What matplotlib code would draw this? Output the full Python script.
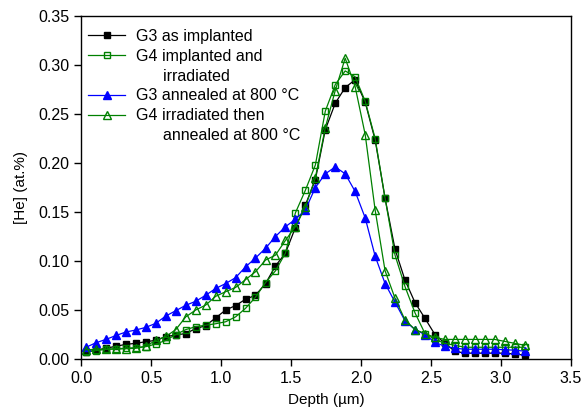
import matplotlib
matplotlib.use("Agg")
import matplotlib.pyplot as plt
from matplotlib.lines import Line2D
from matplotlib.ticker import FormatStrFormatter

plt.rcParams['font.family'] = ['Liberation Sans', 'DejaVu Sans']

depth = [0.036, 0.107, 0.178, 0.250, 0.321, 0.392, 0.463, 0.534, 0.606, 0.677,
         0.748, 0.819, 0.890, 0.962, 1.033, 1.104, 1.175, 1.246, 1.318, 1.389,
         1.460, 1.531, 1.602, 1.674, 1.745, 1.816, 1.887, 1.958, 2.030, 2.101,
         2.172, 2.243, 2.314, 2.386, 2.457, 2.528, 2.599, 2.670, 2.742, 2.813,
         2.884, 2.955, 3.026, 3.098, 3.169]

g3_implanted = [0.007, 0.009, 0.011, 0.013, 0.015, 0.016, 0.0177, 0.019, 0.0228, 0.0245,
                0.026, 0.031, 0.034, 0.042, 0.050, 0.0545, 0.061, 0.065, 0.077, 0.095,
                0.108, 0.134, 0.157, 0.183, 0.234, 0.261, 0.277, 0.285, 0.262, 0.2235,
                0.164, 0.112, 0.0806, 0.0575, 0.0415, 0.0250, 0.016, 0.008, 0.006, 0.006,
                0.006, 0.006, 0.006, 0.005, 0.004]

g4_implanted_irr = [0.0075, 0.0085, 0.0099, 0.0105, 0.011, 0.0116, 0.0126, 0.0153, 0.019, 0.025,
                    0.030, 0.033, 0.0345, 0.036, 0.038, 0.043, 0.0517, 0.063, 0.078, 0.090,
                    0.108, 0.149, 0.172, 0.198, 0.253, 0.280, 0.294, 0.288, 0.263, 0.225,
                    0.164, 0.106, 0.074, 0.047, 0.026, 0.020, 0.016, 0.014, 0.012, 0.012,
                    0.012, 0.012, 0.012, 0.012, 0.012]

g3_annealed = [0.012, 0.0166, 0.020, 0.024, 0.0276, 0.0296, 0.0323, 0.0364, 0.0439, 0.0493,
               0.0548, 0.0589, 0.065, 0.072, 0.077, 0.083, 0.094, 0.103, 0.113, 0.125,
               0.135, 0.1425, 0.152, 0.175, 0.189, 0.196, 0.189, 0.171, 0.144, 0.105,
               0.077, 0.058, 0.039, 0.030, 0.025, 0.017, 0.013, 0.011, 0.010, 0.010,
               0.010, 0.010, 0.0095, 0.009, 0.008]

g4_irr_annealed = [0.0095, 0.0098, 0.010, 0.0102, 0.0105, 0.011, 0.013, 0.019, 0.023, 0.030,
                   0.043, 0.050, 0.055, 0.064, 0.0687, 0.073, 0.081, 0.089, 0.101, 0.106,
                   0.121, 0.135, 0.155, 0.185, 0.236, 0.274, 0.307, 0.278, 0.229, 0.152,
                   0.090, 0.062, 0.040, 0.030, 0.026, 0.022, 0.020, 0.020, 0.020, 0.020,
                   0.020, 0.020, 0.018, 0.016, 0.014]

label_lines = [["G3 as implanted"],
               ["G4 implanted and", "      irradiated"],
               ["G3 annealed at 800 \u00b0C"],
               ["G4 irradiated then", "      annealed at 800 \u00b0C"]]

fig = plt.figure(figsize=(5.82, 4.12), dpi=100)
ax = fig.add_axes([0.1392, 0.1286, 0.8419, 0.8325])

lw = 0.9
h1, = ax.plot(depth, g3_implanted, color='black', marker='s', markersize=5, lw=lw,
              markerfacecolor='black', markeredgecolor='black')
h2, = ax.plot(depth, g4_implanted_irr, color='#008000', marker='s', markersize=5, lw=lw,
              markerfacecolor='none', markeredgecolor='#008000', markeredgewidth=1.0)
h3, = ax.plot(depth, g3_annealed, color='#0000ff', marker='^', markersize=6, lw=lw,
              markerfacecolor='#0000ff', markeredgecolor='#0000ff')
h4, = ax.plot(depth, g4_irr_annealed, color='#008000', marker='^', markersize=6, lw=lw,
              markerfacecolor='none', markeredgecolor='#008000', markeredgewidth=1.0)

handles, texts = [], []
for h, lines in zip([h1, h2, h3, h4], label_lines):
    handles.append(h)
    texts.append(lines[0])
    for extra in lines[1:]:
        handles.append(Line2D([], [], linestyle='none', marker=None))
        texts.append(extra)

ax.set_xlim(0, 3.5)
ax.set_ylim(0, 0.35)
ax.set_xticks([0.0, 0.5, 1.0, 1.5, 2.0, 2.5, 3.0, 3.5])
ax.set_yticks([0.0, 0.05, 0.10, 0.15, 0.20, 0.25, 0.30, 0.35])
ax.xaxis.set_major_formatter(FormatStrFormatter('%.1f'))
ax.yaxis.set_major_formatter(FormatStrFormatter('%.2f'))
ax.tick_params(direction='out', length=5, width=1, labelsize=11.5, top=False, right=False)
for s in ax.spines.values():
    s.set_linewidth(1.0)

ax.set_xlabel("Depth (\u00b5m)", fontsize=11, labelpad=5)
ax.set_ylabel("[He] (at.%)", fontsize=11, labelpad=7)

ax.legend(handles, texts, loc='upper left', bbox_to_anchor=(-0.005, 0.99), frameon=False,
          fontsize=11.5, handlelength=2.3, handletextpad=0.7, labelspacing=0.3,
          borderaxespad=0.2)

fig.savefig("out.png", dpi=100)
